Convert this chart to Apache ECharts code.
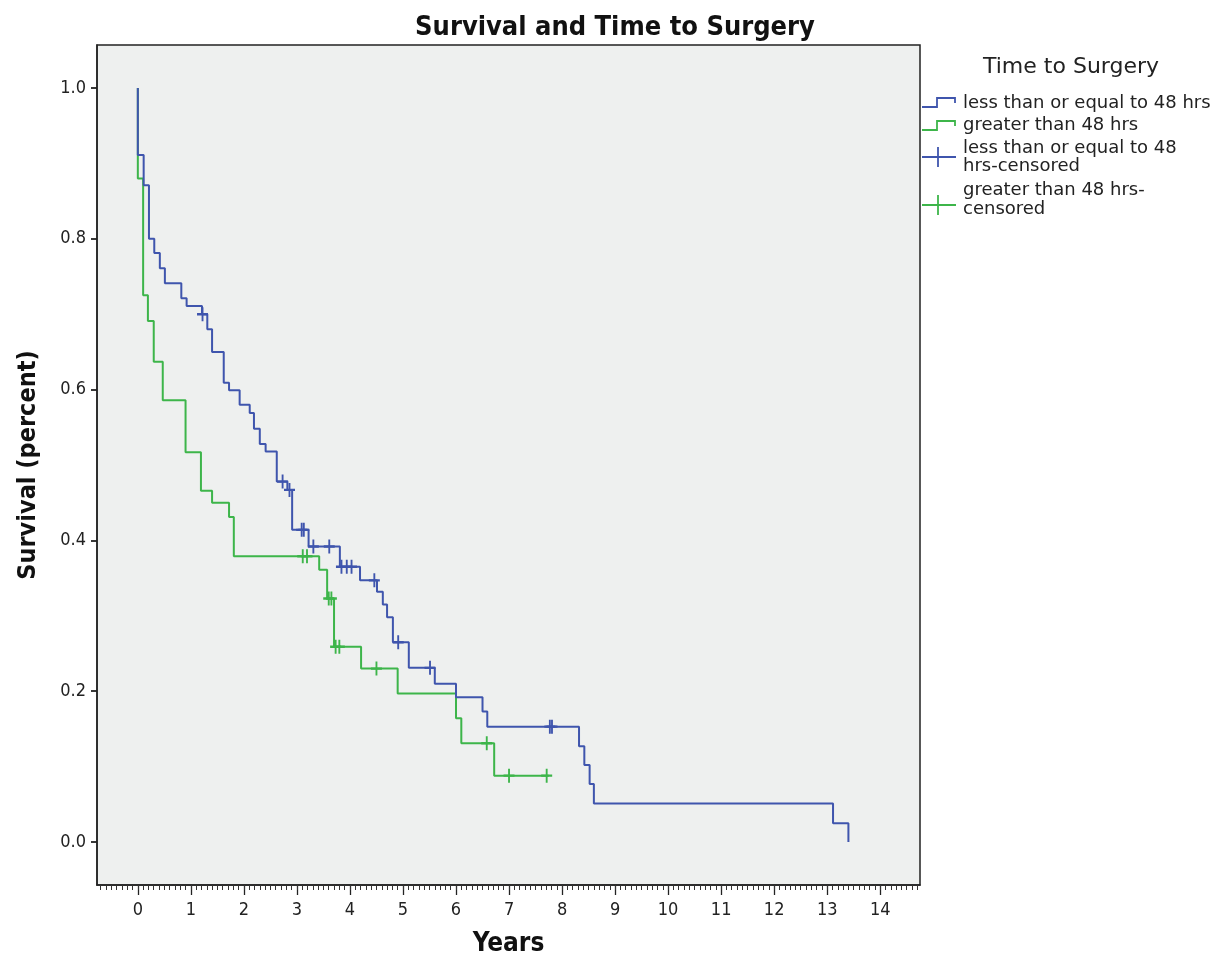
<!DOCTYPE html>
<html>
<head>
<meta charset="utf-8">
<script src="https://cdn.jsdelivr.net/npm/echarts@6.0.0/dist/echarts.min.js"></script>
<style>
  html, body { margin: 0; padding: 0; background: #fff; }
  #main { width: 1229px; height: 961px; }
</style>
</head>
<body>
<div id="main"></div>
<script>
// step points: time (years) and survival after the drop
const blueTime = [0, 0, 0.11, 0.21, 0.31, 0.415, 0.51, 0.82, 0.92, 1.21, 1.31, 1.40, 1.62, 1.72, 1.92, 2.11, 2.19, 2.30, 2.41, 2.62, 2.82, 2.91, 3.22, 3.81, 4.19, 4.51, 4.62, 4.70, 4.81, 5.11, 5.60, 6.00, 6.50, 6.59, 8.32, 8.42, 8.52, 8.60, 13.11, 13.40]
const blueSurv = [1.0, 0.911, 0.871, 0.80, 0.781, 0.761, 0.741, 0.721, 0.711, 0.70, 0.68, 0.65, 0.609, 0.599, 0.58, 0.569, 0.548, 0.528, 0.518, 0.478, 0.467, 0.414, 0.392, 0.365, 0.347, 0.332, 0.315, 0.298, 0.265, 0.231, 0.21, 0.192, 0.173, 0.153, 0.127, 0.102, 0.077, 0.051, 0.025, 0.0]

const greenTime = [0, 0, 0.10, 0.19, 0.30, 0.47, 0.90, 1.19, 1.40, 1.72, 1.81, 3.42, 3.57, 3.70, 4.21, 4.90, 6.00, 6.10, 6.72, 7.75]
const greenSurv = [1.0, 0.880, 0.725, 0.691, 0.637, 0.586, 0.517, 0.466, 0.45, 0.431, 0.379, 0.361, 0.323, 0.259, 0.230, 0.197, 0.164, 0.131, 0.088, 0.088]

// censored cases
const blueCensorTime = [1.22, 2.73, 2.86, 3.09, 3.13, 3.31, 3.61, 3.84, 3.94, 4.03, 4.46, 4.91, 5.51, 7.77, 7.81]
const blueCensorSurv = [0.70, 0.478, 0.467, 0.414, 0.414, 0.392, 0.392, 0.365, 0.365, 0.365, 0.347, 0.265, 0.231, 0.153, 0.153]
const greenCensorTime = [3.11, 3.19, 3.60, 3.65, 3.73, 3.80, 4.50, 6.58, 7.00, 7.71]
const greenCensorSurv = [0.379, 0.379, 0.323, 0.323, 0.259, 0.259, 0.230, 0.131, 0.088, 0.088]

const xTicks = [0, 1, 2, 3, 4, 5, 6, 7, 8, 9, 10, 11, 12, 13, 14]
const yTicks = [0, 0.2, 0.4, 0.6, 0.8, 1.0]

const blue = '#3f55ad'
const green = '#3db54a'
const font = 'DejaVu Sans Condensed'

const minorTicks = []
for (let i = -7; i <= 147; i++) minorTicks.push(i / 10)

const zip = (a, b) => a.map((v, i) => [v, b[i]])
const plus = 'path://M0,8.3H20V11.7H0Z M8.3,0H11.7V20H8.3Z'

const myChart = echarts.init(document.getElementById('main'))

// legend drawn by hand (SPSS style)
const lx = 922
const legendFont = '18px "DejaVu Sans"'
const legendItems = [
  { type: 'text', left: 983, top: 56, style: { text: 'Time to Surgery', font: '22px "DejaVu Sans"', fill: '#222' } },
  { type: 'polyline', shape: { points: [[lx, 107], [937, 107], [937, 98], [955, 98], [955, 103]] }, style: { stroke: blue, lineWidth: 1.8, fill: null } },
  { type: 'text', left: 963, top: 94, style: { text: 'less than or equal to 48 hrs', font: legendFont, fill: '#222' } },
  { type: 'polyline', shape: { points: [[lx, 130], [937, 130], [937, 121], [955, 121], [955, 126]] }, style: { stroke: green, lineWidth: 1.8, fill: null } },
  { type: 'text', left: 963, top: 116, style: { text: 'greater than 48 hrs', font: legendFont, fill: '#222' } },
  { type: 'line', shape: { x1: lx, y1: 157, x2: 956, y2: 157 }, style: { stroke: blue, lineWidth: 1.8 } },
  { type: 'line', shape: { x1: 938, y1: 147, x2: 938, y2: 167 }, style: { stroke: blue, lineWidth: 1.8 } },
  { type: 'text', left: 963, top: 139, style: { text: 'less than or equal to 48\nhrs-censored', font: legendFont, fill: '#222', lineHeight: 18 } },
  { type: 'line', shape: { x1: lx, y1: 205, x2: 956, y2: 205 }, style: { stroke: green, lineWidth: 1.8 } },
  { type: 'line', shape: { x1: 938, y1: 195, x2: 938, y2: 215 }, style: { stroke: green, lineWidth: 1.8 } },
  { type: 'text', left: 963, top: 181, style: { text: 'greater than 48 hrs-\ncensored', font: legendFont, fill: '#222', lineHeight: 19 } }
]

myChart.setOption({
  animation: false,
  title: {
    text: 'Survival and Time to Surgery',
    left: 610, textAlign: 'center',
    top: 9,
    textStyle: { fontFamily: font, fontWeight: 'bold', fontSize: 27, color: '#111' }
  },
  grid: {
    left: 97, top: 45, width: 823, height: 840,
    show: true, backgroundColor: '#eef0ef', borderColor: '#222', borderWidth: 1.5,
    containLabel: false, outerBoundsMode: 'none'
  },
  xAxis: [
    {
      type: 'value', min: -0.77, max: 14.75,
      name: 'Years', nameLocation: 'middle', nameGap: 46,
      nameTextStyle: { fontFamily: font, fontWeight: 'bold', fontSize: 26, color: '#111' },
      axisLine: { show: true, onZero: false, lineStyle: { color: '#222', width: 1.5 } },
      axisTick: { show: true, customValues: xTicks, length: 10, lineStyle: { color: '#222', width: 1.3 } },
      axisLabel: { customValues: xTicks, margin: 16, fontFamily: font, fontSize: 18, color: '#222' },
      splitLine: { show: false }
    },
    {
      type: 'value', min: -0.77, max: 14.75, position: 'bottom',
      axisLine: { show: false, onZero: false },
      axisTick: { show: true, customValues: minorTicks, length: 5, lineStyle: { color: '#333', width: 1 } },
      axisLabel: { show: false },
      splitLine: { show: false }
    }
  ],
  yAxis: {
    type: 'value', min: -0.057, max: 1.057,
    name: 'Survival (percent)', nameLocation: 'middle', nameGap: 56,
    nameTextStyle: { fontFamily: font, fontWeight: 'bold', fontSize: 25, color: '#111' },
    axisLine: { show: true, onZero: false, lineStyle: { color: '#222', width: 1.5 } },
    axisTick: { show: true, customValues: yTicks, length: 6, lineStyle: { color: '#222', width: 1.8 } },
    axisLabel: { customValues: yTicks, margin: 11, fontFamily: font, fontSize: 18, color: '#222', formatter: v => v.toFixed(1) },
    splitLine: { show: false }
  },
  graphic: legendItems,
  series: [
    {
      name: 'less than or equal to 48 hrs', type: 'line', step: 'end',
      data: zip(blueTime, blueSurv), showSymbol: false,
      lineStyle: { color: blue, width: 2 }, z: 3
    },
    {
      name: 'greater than 48 hrs', type: 'line', step: 'end',
      data: zip(greenTime, greenSurv), showSymbol: false,
      lineStyle: { color: green, width: 2 }, z: 2
    },
    {
      name: 'less than or equal to 48 hrs-censored', type: 'scatter',
      data: zip(blueCensorTime, blueCensorSurv),
      symbol: plus, symbolSize: [11, 14],
      itemStyle: { color: blue, opacity: 1 }, z: 4
    },
    {
      name: 'greater than 48 hrs-censored', type: 'scatter',
      data: zip(greenCensorTime, greenCensorSurv),
      symbol: plus, symbolSize: [11, 14],
      itemStyle: { color: green, opacity: 1 }, z: 4
    }
  ]
})
</script>
</body>
</html>
